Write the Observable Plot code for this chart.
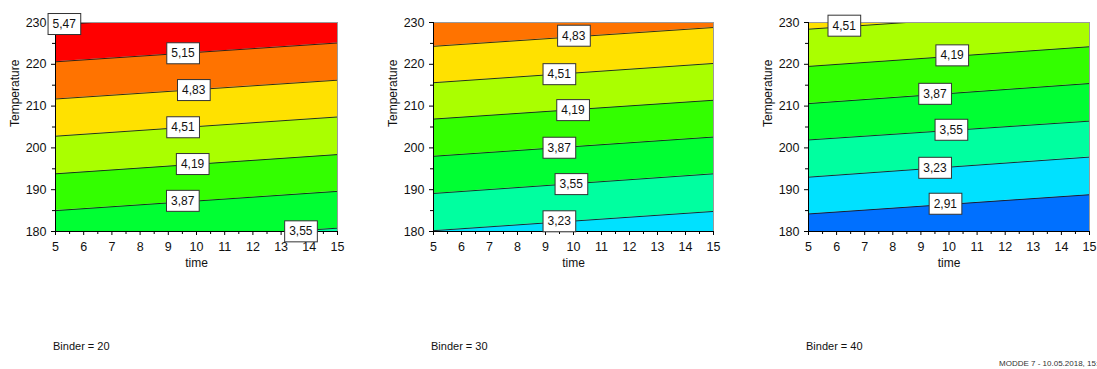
<!DOCTYPE html>
<html>
<head>
<meta charset="utf-8">
<script src="https://cdn.jsdelivr.net/npm/d3@7"></script>
<script src="https://cdn.jsdelivr.net/npm/@observablehq/plot@0.6"></script>
<style>
  html, body { margin: 0; padding: 0; background: #fff; }
  #wrap { position: relative; width: 1097px; height: 369px; overflow: hidden; font-family: "Liberation Sans", Arial, sans-serif; }
  .panel { position: absolute; top: 0; }
  .caption { position: absolute; font-size: 11px; color: #111; }
  .footer { position: absolute; font-size: 8px; color: #333; white-space: nowrap; }
</style>
</head>
<body>
<div id="wrap"></div>
<script>
// ---- data ----
const binders = [20, 30, 40];
const timeEnds = [5, 15];
const xTicks = [5, 6, 7, 8, 9, 10, 11, 12, 13, 14, 15];
const xMinor = [5.5, 6.5, 7.5, 8.5, 9.5, 10.5, 11.5, 12.5, 13.5, 14.5];
const yTicks = [180, 190, 200, 210, 220, 230];
const yMinor = [185, 195, 205, 215, 225];
const levels = [2.91, 3.23, 3.55, 3.87, 4.19, 4.51, 4.83, 5.15, 5.47];
// colour of the band just below levels[i]; last entry = above the top level
const bandColors = ["#0070ff", "#00e1ff", "#00ffa0", "#00ff33", "#33ff00", "#aaff00", "#ffe100", "#ff7300", "#ff0000", "#d40000"];

// Binder = 20 : contour temperatures at time 5 and time 15
const b20Levels = [3.55, 3.87, 4.19, 4.51, 4.83, 5.15, 5.47];
const b20T5  = [176.2, 185.0, 193.8, 202.8, 211.7, 220.6, 229.4];
const b20T15 = [180.8, 189.6, 198.4, 207.4, 216.2, 225.1, 234.0];
const b20LabelTime = [13.7, 9.51, 9.86, 9.52, 9.9, 9.52, 5.31];
const b20LabelTemp = [180.0, 187.3, 196.1, 204.9, 213.8, 222.6, 229.6];

// Binder = 30
const b30Levels = [3.23, 3.55, 3.87, 4.19, 4.51, 4.83];
const b30T5  = [180.2, 189.1, 198.0, 206.9, 215.6, 224.3];
const b30T15 = [184.8, 193.8, 202.6, 211.4, 220.2, 228.8];
const b30LabelTime = [9.49, 9.92, 9.49, 9.98, 9.49, 10.01];
const b30LabelTemp = [182.4, 191.3, 200.0, 209.0, 217.6, 226.8];

// Binder = 40
const b40Levels = [2.91, 3.23, 3.55, 3.87, 4.19, 4.51];
const b40T5  = [184.2, 193.0, 201.9, 210.6, 219.5, 228.4];
const b40T15 = [188.8, 197.8, 206.4, 215.4, 224.2, 233.0];
const b40LabelTime = [9.87, 9.5, 10.08, 9.5, 10.11, 6.27];
const b40LabelTemp = [186.6, 195.2, 204.3, 212.9, 222.1, 229.2];

const panels = [
  {binder: binders[0], lv: b20Levels, t5: b20T5, t15: b20T15, lt: b20LabelTime, lT: b20LabelTemp},
  {binder: binders[1], lv: b30Levels, t5: b30T5, t15: b30T15, lt: b30LabelTime, lT: b30LabelTemp},
  {binder: binders[2], lv: b40Levels, t5: b40T5, t15: b40T15, lt: b40LabelTime, lT: b40LabelTemp}
];

const xDomain = [5, 15], yDomain = [180, 230];
const offsets = [0, 378, 753];
const rightMargins = [23, 25, 24];
const fmt = v => v.toFixed(2).replace(".", ",");
const wrap = document.getElementById("wrap");

panels.forEach((p, pi) => {
  // contour lines
  const lines = [];
  p.lv.forEach((lv, i) => {
    lines.push({level: lv, time: timeEnds[0], temp: p.t5[i]});
    lines.push({level: lv, time: timeEnds[1], temp: p.t15[i]});
  });
  // bands between consecutive boundaries
  const bands = [];
  const n = p.lv.length;
  for (let k = 0; k <= n; k++) {
    const idx = k < n ? levels.indexOf(p.lv[k]) : levels.indexOf(p.lv[n - 1]) + 1;
    const color = bandColors[idx];
    const lo5 = k === 0 ? yDomain[0] : p.t5[k - 1];
    const lo15 = k === 0 ? yDomain[0] : p.t15[k - 1];
    const hi5 = k === n ? yDomain[1] : p.t5[k];
    const hi15 = k === n ? yDomain[1] : p.t15[k];
    bands.push({band: k, color, time: timeEnds[0], lo: lo5, hi: hi5});
    bands.push({band: k, color, time: timeEnds[1], lo: lo15, hi: hi15});
  }
  const labels = p.lv.map((lv, i) => ({text: fmt(lv), time: p.lt[i], temp: p.lT[i]}));

  const chart = Plot.plot({
    width: 360,
    height: 280,
    marginLeft: 55,
    marginRight: rightMargins[pi],
    marginTop: 22,
    marginBottom: 49,
    style: {fontFamily: "'Liberation Sans', Arial, sans-serif", fontSize: "12px", color: "#111", background: "#fff"},
    x: {domain: xDomain, axis: null},
    y: {domain: yDomain, axis: null},
    color: {type: "identity"},
    marks: [
      Plot.areaY(bands, {x: "time", y1: "lo", y2: "hi", z: "band", fill: "color", clip: true, curve: "linear"}),
      Plot.line(lines, {x: "time", y: "temp", z: "level", stroke: "#1a1a1a", strokeWidth: 0.9, clip: true}),
      Plot.frame({stroke: "#9a9a9a", strokeWidth: 1}),
      Plot.ruleX([xDomain[0]], {stroke: "#000"}),
      Plot.ruleY([yDomain[0]], {stroke: "#000"}),
      Plot.axisX({ticks: xTicks, tickSize: 4, tickPadding: 7, tickFormat: d => String(d), label: null, fontSize: 12.5, stroke: "#000"}),
      Plot.axisX({ticks: xMinor, tickSize: 3, tickFormat: () => "", label: null, stroke: "#000"}),
      Plot.axisY({ticks: yTicks, tickSize: 4, tickPadding: 5, tickFormat: d => String(d), label: null, fontSize: 12.5, stroke: "#000"}),
      Plot.axisY({ticks: yMinor, tickSize: 3, tickFormat: () => "", label: null, stroke: "#000"}),
      Plot.text(["Temperature"], {frameAnchor: "left", dx: -40, rotate: -90, text: d => d, fontSize: 12, fill: "#111"}),
      Plot.text(["time"], {frameAnchor: "bottom", dy: 35, text: d => d, fontSize: 12, fill: "#111"}),
      Plot.text(labels, {x: "time", y: "temp", text: "text", fontSize: 12, fill: "#111", className: "clabel"})
    ]
  });
  chart.classList.add("panel");
  chart.style.left = offsets[pi] + "px";
  wrap.appendChild(chart);

  // white boxes behind the contour labels
  chart.querySelectorAll("text").forEach(t => {
    if (!/^\d,\d\d$/.test(t.textContent)) return;
    const bb = t.getBBox();
    const r = document.createElementNS("http://www.w3.org/2000/svg", "rect");
    const padX = 4.5, padY = 3.5;
    r.setAttribute("x", bb.x - padX);
    r.setAttribute("y", bb.y - padY);
    r.setAttribute("width", bb.width + 2 * padX);
    r.setAttribute("height", bb.height + 2 * padY);
    r.setAttribute("fill", "#fff");
    r.setAttribute("stroke", "#333");
    r.setAttribute("stroke-width", "1");
    const tr = t.getAttribute("transform");
    if (tr) r.setAttribute("transform", tr);
    t.parentNode.insertBefore(r, t);
  });

  const cap = document.createElement("div");
  cap.className = "caption";
  cap.textContent = "Binder = " + p.binder;
  cap.style.left = (offsets[pi] + 53) + "px";
  cap.style.top = "340px";
  wrap.appendChild(cap);
});

const foot = document.createElement("div");
foot.className = "footer";
foot.textContent = "MODDE 7 - 10.05.2018, 15:";
foot.style.left = "999px";
foot.style.top = "359px";
wrap.appendChild(foot);
</script>
</body>
</html>
